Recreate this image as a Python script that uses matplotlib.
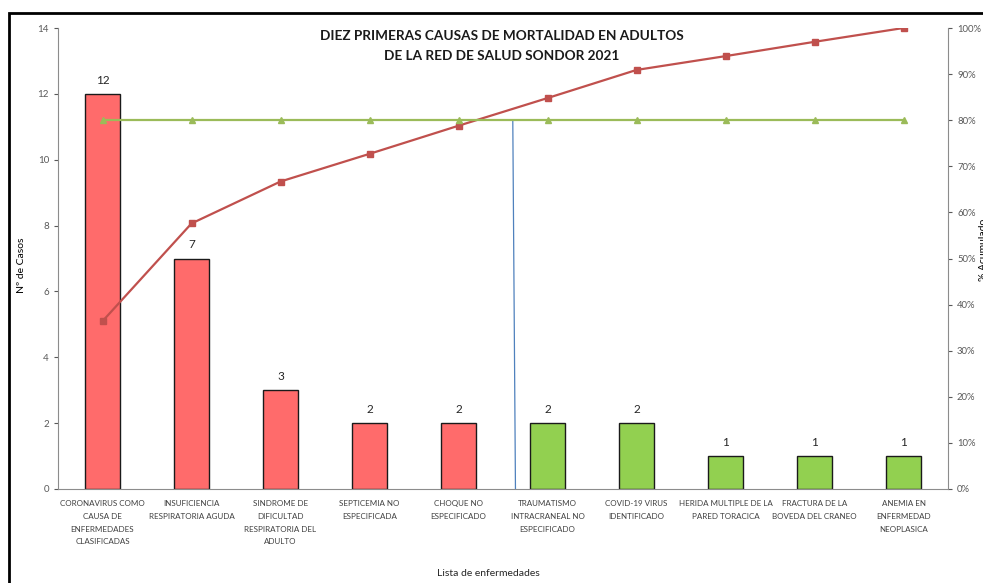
import numpy as np
import matplotlib
matplotlib.use('Agg')
import matplotlib.pyplot as plt
from matplotlib.patches import Rectangle
from matplotlib.ticker import PercentFormatter

plt.rcParams['font.family'] = ['Lato', 'DejaVu Sans']

# diez primeras causas, casos y % acumulado
causas = ['CORONAVIRUS COMO\nCAUSA DE\nENFERMEDADES\nCLASIFICADAS',
          'INSUFICIENCIA\nRESPIRATORIA AGUDA',
          'SINDROME DE\nDIFICULTAD\nRESPIRATORIA DEL\nADULTO',
          'SEPTICEMIA NO\nESPECIFICADA',
          'CHOQUE NO\nESPECIFICADO',
          'TRAUMATISMO\nINTRACRANEAL NO\nESPECIFICADO',
          'COVID-19 VIRUS\nIDENTIFICADO',
          'HERIDA MULTIPLE DE LA\nPARED TORACICA',
          'FRACTURA DE LA\nBOVEDA DEL CRANEO',
          'ANEMIA EN\nENFERMEDAD\nNEOPLASICA']
casos = [12, 7, 3, 2, 2, 2, 2, 1, 1, 1]
acumulado = [36.4, 57.6, 66.7, 72.7, 78.8, 84.8, 90.9, 93.9, 97.0, 100.0]
limite = [80] * 10
colores = ['#FF6B6B'] * 5 + ['#92D050'] * 5
corte_x = [4.61, 4.64]
corte_y = [80, 0]

fig = plt.figure(figsize=(9.83, 5.83), dpi=100)
ax = fig.add_axes([58/983, 94/583, 890/983, 461/583])
x = np.arange(len(casos))

ax.bar(x, casos, width=0.4, color=colores, edgecolor='#1a1a1a', linewidth=1, zorder=2)
for xi, v in zip(x, casos):
    ax.text(xi, v + 0.25, str(v), ha='center', va='bottom', fontsize=8.5, color='#262626')

ax.set_xlim(-0.5, len(casos) - 0.5)
ax.set_ylim(0, 14)
ax.set_yticks(range(0, 15, 2))
ax.set_xticks(x)
ax.set_xticklabels(causas, fontsize=5.8, color='#404040', linespacing=1.95)
ax.tick_params(axis='x', length=0, pad=8)
ax.tick_params(axis='y', labelsize=7, colors='#595959', length=3, width=0.8)
for s in ['top', 'right']:
    ax.spines[s].set_visible(False)
for s in ['left', 'bottom']:
    ax.spines[s].set_color('#8c8c8c')

ax2 = ax.twinx()
ax2.plot(x, acumulado, color='#C0504D', lw=1.6, marker='s', ms=5, zorder=3)
ax2.plot(x, limite, color='#9BBB59', lw=1.6, marker='^', ms=5, zorder=3)
ax2.plot(corte_x, corte_y, color='#4F81BD', lw=0.9, zorder=1)
ax2.set_ylim(0, 100)
ax2.set_yticks(range(0, 101, 10))
ax2.yaxis.set_major_formatter(PercentFormatter(decimals=0))
ax2.tick_params(axis='y', labelsize=6.8, colors='#595959', length=3, width=0.8)
for s in ['top', 'left', 'bottom']:
    ax2.spines[s].set_visible(False)
ax2.spines['right'].set_color('#8c8c8c')

fig.text(502/983, 1 - 46/583, 'DIEZ PRIMERAS CAUSAS DE MORTALIDAD EN ADULTOS\nDE LA RED DE SALUD SONDOR 2021',
         ha='center', va='center', fontsize=9.8, fontweight='bold', linespacing=1.75, color='#1a1a1a')
fig.text(21/983, 1 - 265/583, 'Nº de Casos', rotation=90, ha='center', va='center', fontsize=7.5)
fig.text(488/983, 1 - 573/583, 'Lista de enfermedades', ha='center', va='center', fontsize=7.5, color='#262626')
fig.text(983.5/983, 1 - 250/583, '% Acumulado', rotation=90, ha='center', va='center', fontsize=7.5)

# marco exterior
fig.patches.append(Rectangle((9/983, -0.05), 1.2, 1 - 13/583 + 0.05, transform=fig.transFigure,
                             fill=False, edgecolor='black', linewidth=2))

fig.savefig('out.png', dpi=100)
